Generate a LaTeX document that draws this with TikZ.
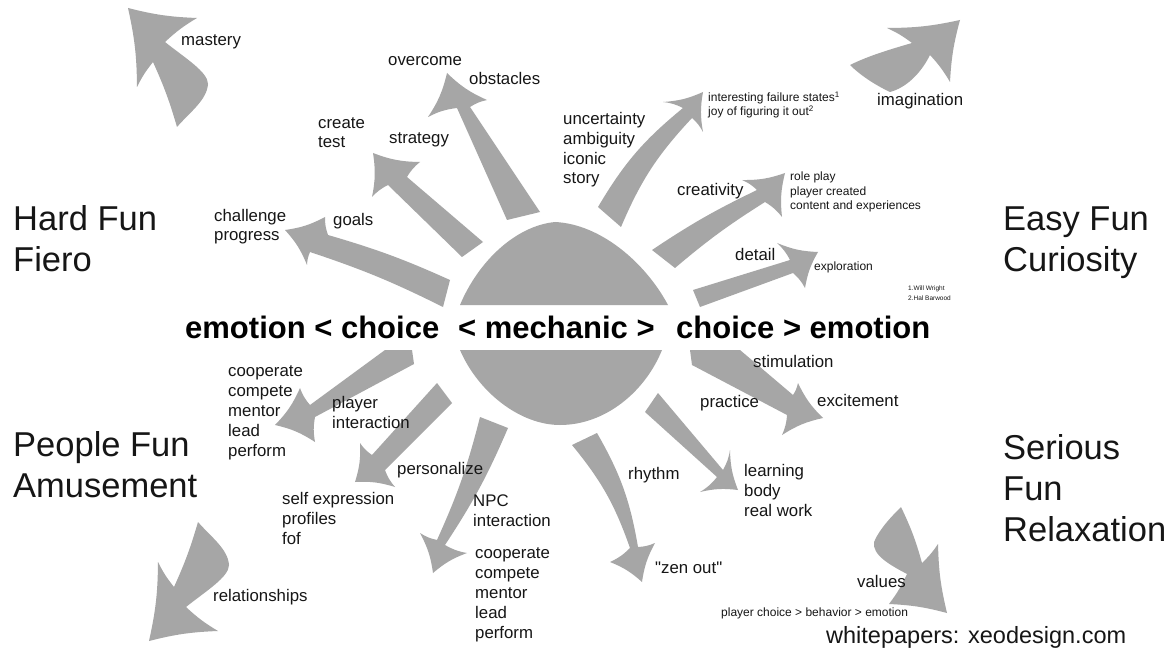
\documentclass[tikz,border=0pt]{standalone}
\usepackage{fontspec}
\setmainfont{Liberation Sans}[Ligatures=TeXOff]
\definecolor{arrowgray}{RGB}{166,166,166}
\definecolor{ink}{RGB}{22,22,22}
\tikzset{
  arrowfill/.style={fill=arrowgray},
  hd/.style={bend right=10},
  hds/.style={bend right=6},
  hdl/.style={bend left=6},
  bigtxt/.style={font=\fontsize{34.5}{41}\selectfont, anchor=base west, inner sep=0pt, align=left, text=ink},
  lab/.style={font=\fontsize{16.8}{19.8}\selectfont, anchor=base west, inner sep=0pt, align=left, text=ink},
  small/.style={font=\fontsize{12}{14.5}\selectfont, anchor=base west, inner sep=0pt, align=left, text=ink},
  micro/.style={font=\fontsize{6.5}{9.5}\selectfont, anchor=base west, inner sep=0pt, align=left, text=ink},
  mainline/.style={font=\bfseries\fontsize{31}{36}\selectfont, anchor=base west, inner sep=0pt, text=black}
}
% tail A, notch A, barb A, tip, barb B, notch B, tail B
\newcommand\farrow[9]{%
  \fill[arrowfill] #3 to[#1] #4 to[hd] #5 to[hd] #6 to[hd] #7 to[hd] #8 to[#2] #9 -- cycle;}

\begin{document}
\begin{tikzpicture}[x=1pt,y=-1pt]
\useasboundingbox (0,0) rectangle (1172,652);
\fill[white] (0,0) rectangle (1172,652);

% centre lens
\fill[arrowgray] (460,305) .. controls (478,262) and (515,226) .. (555,222)
  .. controls (600,224) and (645,262) .. (668,305) -- cycle;
\fill[arrowgray] (460,350) .. controls (478,392) and (520,425) .. (560,425)
  .. controls (605,425) and (645,392) .. (662,350) -- cycle;

% upper arrows
\farrow{bend right=4}{bend left=4}{(443,307)}{(310,252)}{(307,265)}{(285,230)}{(325,217)}{(328,235)}{(450,280)}
\farrow{}{}{(462,257)}{(388,185)}{(372,197)}{(373,153)}{(420,162)}{(407,177)}{(483,242)}
\farrow{}{}{(507,220)}{(457,108)}{(428,117)}{(447,73)}{(487,100)}{(470,107)}{(540,212)}
\farrow{bend left=10}{bend right=10}{(598,207)}{(683,108)}{(663,102)}{(703,92)}{(703,132)}{(692,118)}{(621,227)}
\farrow{bend left=4}{bend right=4}{(652,250)}{(757,190)}{(742,180)}{(785,173)}{(782,217)}{(765,202)}{(675,268)}
\farrow{}{}{(693,290)}{(790,260)}{(777,243)}{(818,252)}{(805,288)}{(793,273)}{(700,307)}

% lower arrows
\farrow{}{}{(414,364)}{(315,417)}{(315,442)}{(275,425)}{(300,388)}{(310,405)}{(385,350) -- (412,350)}
\farrow{}{}{(452,403)}{(385,470)}{(395,487)}{(355,482)}{(360,443)}{(372,455)}{(437,383)}
\farrow{bend left=5}{bend right=5}{(508,428)}{(445,545)}{(467,553)}{(433,573)}{(420,533)}{(437,540)}{(480,417)}
\farrow{}{}{(740,350)}{(793,395)}{(798,383)}{(823,418)}{(782,435)}{(787,415)}{(692,365) -- (690,350)}
\farrow{}{}{(658,393)}{(723,470)}{(730,450)}{(738,490)}{(700,492)}{(717,477)}{(645,412)}
\farrow{bend left=10}{bend right=10}{(597,433)}{(638,547)}{(655,543)}{(642,582)}{(610,562)}{(630,548)}{(572,445)}

% corner arrows
\fill[arrowfill] (128,8) to[hds] (197,18) to[hds] (165,42)
  .. controls (185,58) and (208,72) .. (208,84)
  .. controls (207,100) and (190,112) .. (177,127)
  to[bend right=4] (153,62) to[hds] (137,87) to[hds] (128,8) -- cycle;
\fill[arrowfill] (960,20) to[hds] (950,82) to[hds] (930,55)
  .. controls (920,75) and (905,88) .. (890,92)
  .. controls (875,85) and (860,75) .. (850,65)
  .. controls (870,55) and (895,48) .. (912,43) to[hds] (887,28) to[hds] (960,20) -- cycle;
\fill[arrowfill] (149,641) to[hdl] (218,631) to[hdl] (186,607)
  .. controls (206,591) and (229,577) .. (229,565)
  .. controls (228,549) and (211,537) .. (198,522)
  to[bend left=4] (174,587) to[hdl] (158,562) to[hdl] (149,641) -- cycle;
\fill[arrowfill] (901,507) to[bend left=5] (922,563) to[hds] (938,544) to[hds] (947,613)
  to[hds] (889,604) to[hds] (907,574)
  .. controls (890,565) and (872,555) .. (874,542)
  .. controls (880,528) and (893,515) .. (901,507) -- cycle;

% big titles (anchor = baseline of last line)
\node[bigtxt] (hard) at (13,272) {Hard Fun\\Fiero};
\node[bigtxt] (easy) at (1003,272) {Easy Fun\\Curiosity};
\node[bigtxt] (people) at (13,497) {People Fun\\Amusement};
\node[bigtxt] (serious) at (1003,541) {Serious\\Fun\\Relaxation};

% main line
\node[mainline] (m1) at (185,338) {emotion < choice};
\node[mainline] (m2) at (458,338) {< mechanic >};
\node[mainline] (m3) at (676,338) {choice > emotion};

% labels (anchor = baseline of last line)
\node[lab] (mastery) at (181,46) {mastery};
\node[lab] (overcome) at (388,66) {overcome};
\node[lab] (obstacles) at (469,85) {obstacles};
\node[lab] (create) at (318,148) {create\\test};
\node[lab] (strategy) at (389,144) {strategy};
\node[lab] (challenge) at (214,241) {challenge\\progress};
\node[lab] (goals) at (333,226) {goals};
\node[lab] (uncert) at (563,184) {uncertainty\\ambiguity\\iconic\\story};
\node[small] (failure) at (708,116) {interesting failure states\textsuperscript{1}\\joy of figuring it out\textsuperscript{2}};
\node[lab] (imagination) at (877,106) {imagination};
\node[lab] (creativity) at (677,196) {creativity};
\node[small] (roleplay) at (790,210) {role play\\player created\\content and experiences};
\node[lab] (detail) at (735,261) {detail};
\node[small] (exploration) at (814,270) {exploration};
\node[micro] (notes) at (908,300) {1.Will Wright\\2.Hal Barwood};
\node[lab] (coopL) at (228,456) {cooperate\\compete\\mentor\\lead\\perform};
\node[lab] (player) at (332,428) {player\\interaction};
\node[lab] (personalize) at (397,474) {personalize};
\node[lab] (selfexp) at (282,544) {self expression\\profiles\\fof};
\node[lab] (npc) at (473,526) {NPC\\interaction};
\node[lab] (coopR) at (475,638) {cooperate\\compete\\mentor\\lead\\perform};
\node[lab] (relationships) at (213,601) {relationships};
\node[lab] (stimulation) at (753,367) {stimulation};
\node[lab] (practice) at (700,407) {practice};
\node[lab] (excitement) at (817,406) {excitement};
\node[lab] (rhythm) at (628,479) {rhythm};
\node[lab] (learning) at (744,516) {learning\\body\\real work};
\node[lab] (zen) at (655,573) {"zen out"};
\node[lab] (values) at (857,587) {values};
\node[small] (pchoice) at (721,616) {player choice > behavior > emotion};
\node[font=\fontsize{23.5}{28}\selectfont, anchor=base west, inner sep=0pt, text=ink] (white) at (826,643) {whitepapers: xeodesign.com};
\end{tikzpicture}
\end{document}
